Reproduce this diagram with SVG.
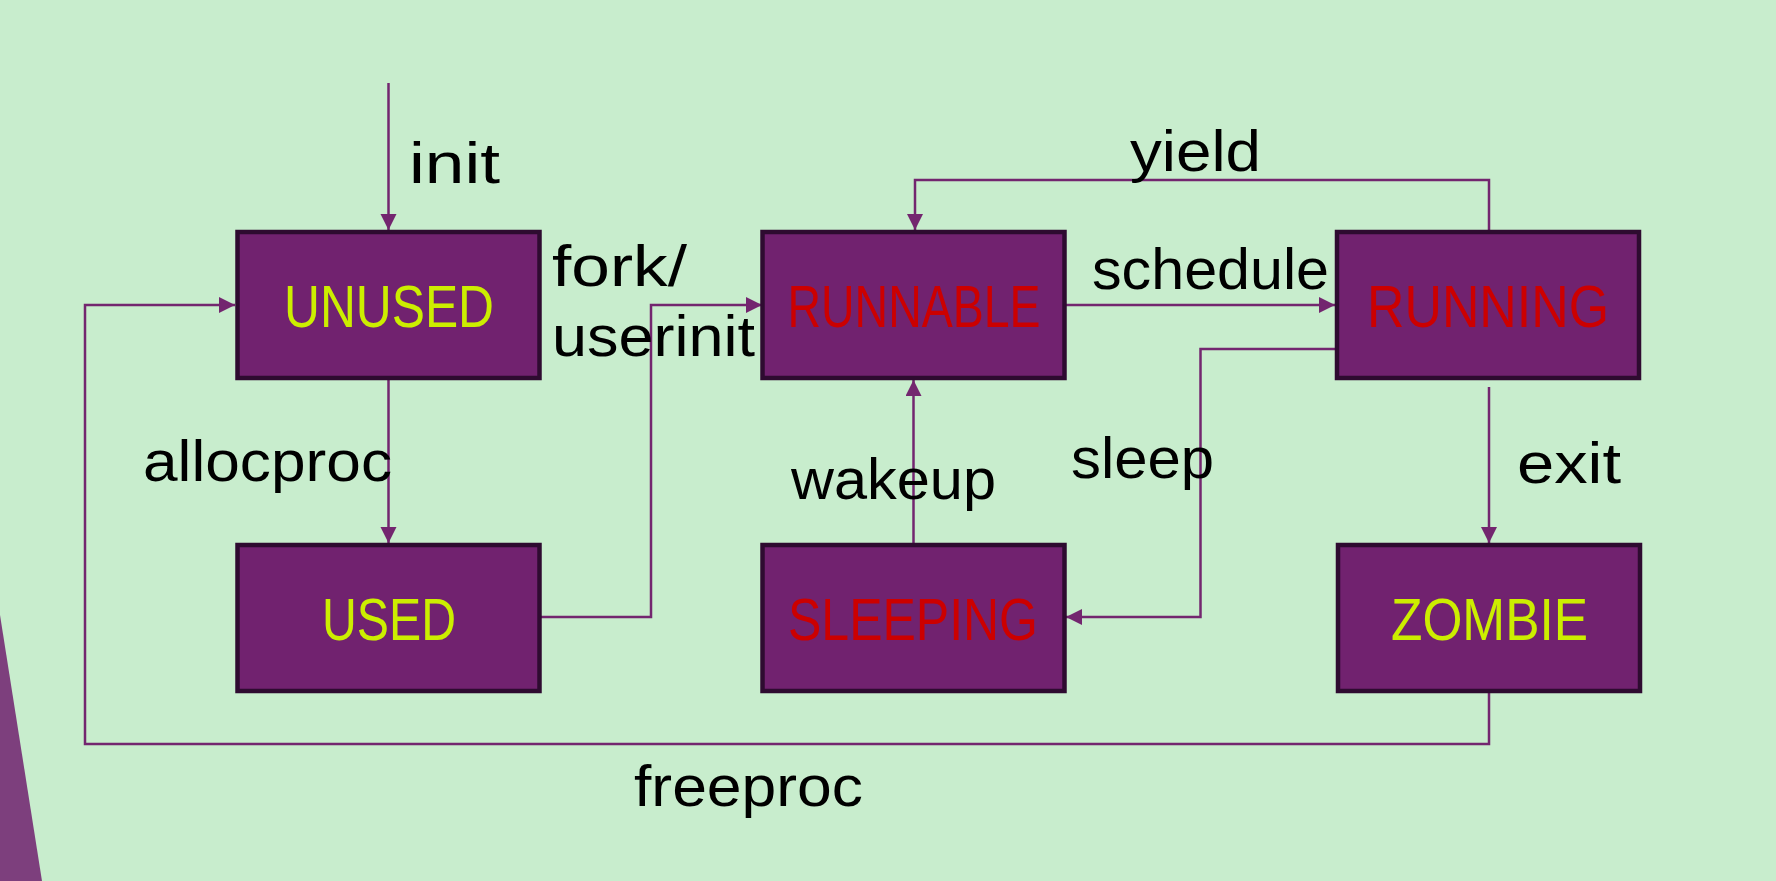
<svg xmlns="http://www.w3.org/2000/svg" width="1776" height="881" viewBox="0 0 1776 881">
<defs>
<marker id="arr" markerUnits="userSpaceOnUse" markerWidth="17" markerHeight="17" refX="16" refY="8" orient="auto">
<path d="M0,0 L16,8 L0,16 z" fill="#73266f"/>
</marker>
<style>
.box{fill:#71226f;stroke:#2e0b30;stroke-width:4.5}
.lbl{font-family:"Liberation Sans",Arial,sans-serif;font-size:58px;fill:#000}
.st{font-family:"Liberation Sans",Arial,sans-serif;font-size:60px;text-anchor:middle}
.y{fill:#ccee00}
.r{fill:#cc0000}
.c{fill:none;stroke:#73266f;stroke-width:2.5;marker-end:url(#arr)}
.c2{fill:none;stroke:#73266f;stroke-width:2.5}
</style>
</defs>
<rect width="1776" height="881" fill="#c8edcd"/>
<polygon points="0,615 42,881 0,881" fill="#7d3f7d"/>
<g id="connectors">
<path class="c" d="M388.5,83 V230"/>
<path class="c" d="M388.5,380 V543"/>
<path class="c" d="M541,617 H651 V305 H762"/>
<path class="c" d="M1489,693 V744 H85 V305 H235"/>
<path class="c" d="M1066,305 H1335"/>
<path class="c" d="M1489,231 V180 H915 V230"/>
<path class="c" d="M1336,349 H1200.5 V617 H1066"/>
<path class="c" d="M913.5,543 V380"/>
<path class="c" d="M1489,387 V543"/>
</g>
<g id="labels">
<text class="lbl" x="409" y="183" textLength="91" lengthAdjust="spacingAndGlyphs">init</text>
<text class="lbl" x="552" y="286" textLength="135" lengthAdjust="spacingAndGlyphs">fork/</text>
<text class="lbl" x="552" y="356" textLength="203" lengthAdjust="spacingAndGlyphs">userinit</text>
<text class="lbl" x="1130" y="171" textLength="131" lengthAdjust="spacingAndGlyphs">yield</text>
<text class="lbl" x="1092" y="289" textLength="237" lengthAdjust="spacingAndGlyphs">schedule</text>
<text class="lbl" x="143" y="481" textLength="249" lengthAdjust="spacingAndGlyphs">allocproc</text>
<text class="lbl" x="791" y="499" textLength="205" lengthAdjust="spacingAndGlyphs">wakeup</text>
<text class="lbl" x="1071" y="478" textLength="143" lengthAdjust="spacingAndGlyphs">sleep</text>
<text class="lbl" x="1517" y="483" textLength="104" lengthAdjust="spacingAndGlyphs">exit</text>
<text class="lbl" x="634" y="806" textLength="229" lengthAdjust="spacingAndGlyphs">freeproc</text>
</g>
<g id="UNUSED">
<rect class="box" x="237.5" y="232" width="302" height="146"/>
<text class="st y" x="389" y="327" textLength="210" lengthAdjust="spacingAndGlyphs">UNUSED</text>
</g>
<g id="RUNNABLE">
<rect class="box" x="762.5" y="232" width="302" height="146"/>
<text class="st r" x="914" y="327" textLength="253" lengthAdjust="spacingAndGlyphs">RUNNABLE</text>
</g>
<g id="RUNNING">
<rect class="box" x="1337" y="232" width="302" height="146"/>
<text class="st r" x="1488" y="327" textLength="242" lengthAdjust="spacingAndGlyphs">RUNNING</text>
</g>
<g id="USED">
<rect class="box" x="237.5" y="545" width="302" height="146"/>
<text class="st y" x="389" y="640" textLength="134" lengthAdjust="spacingAndGlyphs">USED</text>
</g>
<g id="SLEEPING">
<rect class="box" x="762.5" y="545" width="302" height="146"/>
<text class="st r" x="913" y="640" textLength="250" lengthAdjust="spacingAndGlyphs">SLEEPING</text>
</g>
<g id="ZOMBIE">
<rect class="box" x="1338" y="545" width="302" height="146"/>
<text class="st y" x="1489.5" y="640" textLength="197" lengthAdjust="spacingAndGlyphs">ZOMBIE</text>
</g>
</svg>
